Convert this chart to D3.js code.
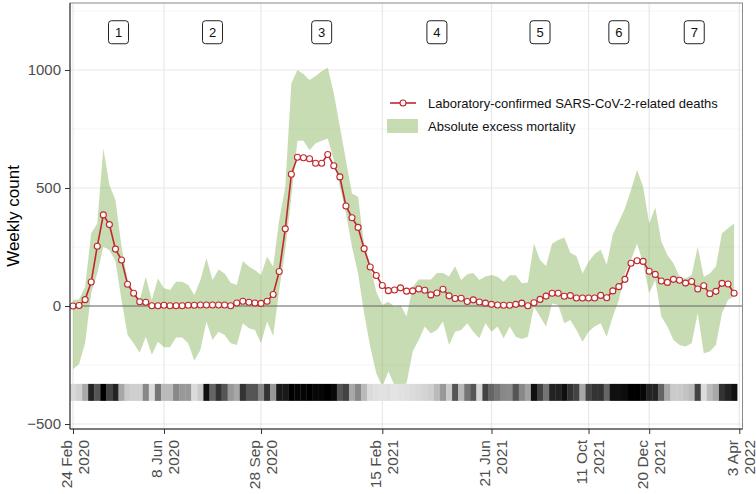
<!DOCTYPE html>
<html>
<head>
<meta charset="utf-8">
<script src="https://cdn.jsdelivr.net/npm/d3@7"></script>
<style>
  body { margin: 0; background: #fff; }
  svg { display: block; font-family: "Liberation Sans", Arial, sans-serif; }
</style>
</head>
<body>
<div id="chart"></div>
<script>
// weekly series, first week starting Monday 24 Feb 2020
const firstWeek = '2020-02-24';

const deaths = [
  0, 2, 27, 102, 253, 386, 345, 241, 195, 92,
  54, 18, 16, 1, 1, 3, 1, 1, 1, 3,
  3, 4, 4, 4, 4, 4, 1, 13, 20, 16,
  13, 11, 20, 49, 146, 327, 558, 630, 628, 624,
  605, 605, 642, 594, 547, 424, 374, 333, 243, 165,
  129, 87, 65, 68, 77, 63, 64, 72, 67, 47,
  55, 71, 43, 32, 33, 19, 26, 17, 12, 7,
  4, 3, 3, 7, 12, 1, 14, 28, 42, 54,
  54, 41, 44, 34, 34, 34, 34, 45, 35, 64,
  82, 113, 181, 192, 189, 147, 134, 106, 100, 113,
  109, 97, 104, 72, 86, 52, 62, 96, 93, 54
];

const excessUpper = [
  25, 28, 82, 308, 350, 668, 513, 449, 251, 110,
  54, 25, 124, 25, 117, 75, 68, 103, 103, 89,
  47, 110, 202, 110, 155, 138, 99, 89, 191, 167,
  152, 131, 209, 167, 364, 505, 943, 1000, 983, 958,
  975, 995, 1010, 901, 760, 618, 477, 463, 260, 170,
  60, 4, 18, -3, 4, -45, 80, 112, 112, 112,
  140, 140, 125, 168, 110, 135, 140, 110, 125, 131,
  124, 103, 130, 130, 96, 100, 265, 195, 170, 265,
  280, 290, 226, 212, 138, 188, 220, 238, 175, 304,
  357, 414, 491, 576, 505, 350, 418, 273, 216, 181,
  124, 117, 131, 251, 124, 138, 167, 308, 329, 350
];

const excessLower = [
  -268, -246, -158, 54, 138, 251, 237, 190, 25, -123,
  -158, -198, -130, -207, -151, -175, -175, -134, -134, -158,
  -232, -186, -66, -144, -109, -123, -158, -165, -73, -94,
  -102, -158, -66, -127, 68, 237, 463, 700, 700, 660,
  690, 700, 710, 618, 505, 392, 251, 138, -31, -172,
  -285, -342, -278, -335, -335, -328, -193, -144, -87, -116,
  -102, -66, -165, -109, -102, -73, -109, -137, -73, -109,
  -87, -137, -87, -130, -140, -130, -3, -45, -87, 11,
  4, -73, -59, -102, -151, -109, -87, -73, -130, -45,
  25, 138, 195, 265, 181, 54, 110, -45, -87, -144,
  -165, -172, -158, -31, -200, -193, -165, -31, 25, 40
];

// darkness of the weekly strip (0 = light grey, 1 = black)
const intensity = [
  0.06, 0.10, 0.27, 0.85, 0.63, 1.00, 0.71, 0.85, 0.27, 0.12,
  0.10, 0.10, 0.41, 0.05, 0.49, 0.19, 0.19, 0.41, 0.34, 0.34,
  0.05, 0.12, 0.93, 0.56, 0.78, 0.63, 0.34, 0.27, 0.78, 0.63,
  0.63, 0.41, 0.78, 0.34, 0.89, 0.89, 1.00, 0.98, 0.98, 1.00,
  0.97, 0.98, 1.00, 0.96, 0.63, 0.71, 0.27, 0.41, 0.19, 0.05,
  0.03, 0.02, 0.03, 0.01, 0.02, 0.03, 0.05, 0.06, 0.08, 0.10,
  0.19, 0.34, 0.12, 0.63, 0.20, 0.49, 0.63, 0.08, 0.71, 0.56,
  0.49, 0.41, 0.40, 0.63, 0.41, 0.30, 0.93, 0.71, 0.49, 0.85,
  0.85, 0.93, 0.78, 0.71, 0.27, 0.71, 0.78, 0.78, 0.56, 0.93,
  0.93, 0.95, 1.00, 1.00, 0.97, 0.85, 0.85, 0.56, 0.27, 0.12,
  0.12, 0.15, 0.19, 0.71, 0.05, 0.19, 0.27, 0.78, 0.85, 0.93
];

const tickDates = ['2020-02-24', '2020-06-08', '2020-09-28', '2021-02-15',
                   '2021-06-21', '2021-10-11', '2021-12-20', '2022-04-03'];
const yTicks = [-500, 0, 500, 1000];
const yMinorTicks = [-250, 250, 750, 1250];
const periodLabels = ['1', '2', '3', '4', '5', '6', '7'];
const legendLabels = ['Laboratory-confirmed SARS-CoV-2-related deaths', 'Absolute excess mortality'];

const width = 756, height = 494;
const panel = { left: 70, right: 742.5, top: 3, bottom: 429 };
const red = '#c0282d';
const green = '#73a83f';

const parse = d3.utcParse('%Y-%m-%d');
const ticks = tickDates.map(parse);
const start = parse(firstWeek);
const dates = deaths.map((_, i) => d3.utcWeek.offset(start, i));

const x = d3.scaleUtc()
  .domain([ticks[0], ticks[ticks.length - 1]])
  .range([73, 739.3]);
const y = d3.scaleLinear()
  .domain([-500, 1000])
  .range([424, 70]);

const svg = d3.select('#chart').append('svg')
  .attr('width', width)
  .attr('height', height)
  .attr('viewBox', `0 0 ${width} ${height}`);

// Grid
const grid = svg.append('g');
grid.selectAll('line.minor')
  .data(yMinorTicks)
  .join('line')
  .attr('x1', panel.left).attr('x2', panel.right)
  .attr('y1', d => y(d)).attr('y2', d => y(d))
  .attr('stroke', '#f2f2f2').attr('stroke-width', 0.8);
grid.selectAll('line.major')
  .data(yTicks)
  .join('line')
  .attr('x1', panel.left).attr('x2', panel.right)
  .attr('y1', d => y(d)).attr('y2', d => y(d))
  .attr('stroke', '#e8e8e8').attr('stroke-width', 1.2);
grid.selectAll('line.vert')
  .data(ticks)
  .join('line')
  .attr('x1', d => x(d)).attr('x2', d => x(d))
  .attr('y1', panel.top).attr('y2', panel.bottom)
  .attr('stroke', '#e8e8e8').attr('stroke-width', 1.2);

// Excess mortality band
const area = d3.area()
  .x((d, i) => x(dates[i]))
  .y0((d, i) => y(excessLower[i]))
  .y1((d, i) => y(excessUpper[i]));
svg.append('path')
  .datum(deaths)
  .attr('d', area)
  .attr('fill', green)
  .attr('fill-opacity', 0.4);

// Zero line
svg.append('line')
  .attr('x1', panel.left).attr('x2', panel.right)
  .attr('y1', y(0)).attr('y2', y(0))
  .attr('stroke', '#6b6b6b').attr('stroke-width', 1.2);

// Weekly strip
const grey = d3.scaleLinear().domain([0, 1]).range(['#e6e6e6', '#000000']);
svg.append('g')
  .selectAll('rect')
  .data(intensity)
  .join('rect')
  .attr('x', (d, i) => (x(dates[i]) + x(d3.utcWeek.offset(dates[i], -1))) / 2)
  .attr('width', (d, i) => x(d3.utcWeek.offset(dates[i], 1)) - x(dates[i]) + 0.3)
  .attr('y', y(-330))
  .attr('height', y(-402) - y(-330))
  .attr('fill', d => grey(d));

// Deaths line + points
const line = d3.line()
  .x((d, i) => x(dates[i]))
  .y(d => y(d));
svg.append('path')
  .datum(deaths)
  .attr('d', line)
  .attr('fill', 'none')
  .attr('stroke', red)
  .attr('stroke-width', 1.6);
svg.append('g')
  .selectAll('circle')
  .data(deaths)
  .join('circle')
  .attr('cx', (d, i) => x(dates[i]))
  .attr('cy', d => y(d))
  .attr('r', 3)
  .attr('fill', '#fff')
  .attr('stroke', red)
  .attr('stroke-width', 1.1);

// Panel border
svg.append('rect')
  .attr('x', panel.left).attr('y', panel.top)
  .attr('width', panel.right - panel.left)
  .attr('height', panel.bottom - panel.top)
  .attr('fill', 'none')
  .attr('stroke', '#8a8a8a')
  .attr('stroke-width', 1);

// Axes
const yAxis = svg.append('g')
  .attr('transform', `translate(${panel.left},0)`)
  .call(d3.axisLeft(y).tickValues(yTicks).tickSize(5).tickPadding(4).tickSizeOuter(0).tickFormat(d3.format('d')));
yAxis.select('.domain').attr('d', `M0,${panel.top}V${panel.bottom}`).attr('stroke', '#333');
yAxis.selectAll('.tick line').attr('stroke', '#333');
yAxis.selectAll('.tick text')
  .attr('font-size', 15)
  .attr('fill', '#4d4d4d')
  .attr('font-family', '"Liberation Sans", Arial, sans-serif');

const xAxis = svg.append('g')
  .attr('transform', `translate(0,${panel.bottom})`)
  .call(d3.axisBottom(x).tickValues(ticks).tickSize(5).tickSizeOuter(0).tickFormat(''));
xAxis.select('.domain').attr('d', `M${panel.left},0H${panel.right}`).attr('stroke', '#333');
xAxis.selectAll('.tick line').attr('stroke', '#333');
xAxis.selectAll('.tick text').remove();
const fmtDay = d3.utcFormat('%-d %b');
const fmtYear = d3.utcFormat('%Y');
xAxis.selectAll('.tick').each(function(d) {
  const t = d3.select(this).append('text')
    .attr('transform', 'translate(0,11) rotate(-90)')
    .attr('text-anchor', 'end')
    .attr('font-size', 15.5)
    .attr('fill', '#4d4d4d')
    .attr('font-family', '"Liberation Sans", Arial, sans-serif');
  t.append('tspan').attr('x', 0).attr('y', -2).text(fmtDay(d));
  t.append('tspan').attr('x', 0).attr('y', 15).text(fmtYear(d));
});

// Y title
svg.append('text')
  .attr('transform', `translate(19,${(panel.top + panel.bottom) / 2}) rotate(-90)`)
  .attr('text-anchor', 'middle')
  .attr('font-size', 17)
  .attr('fill', '#000')
  .text('Weekly count');

// Period labels
const periods = periodLabels.map((label, i) => ({
  label,
  mid: new Date((ticks[i].getTime() + ticks[i + 1].getTime()) / 2)
}));
const pg = svg.append('g')
  .selectAll('g')
  .data(periods)
  .join('g')
  .attr('transform', d => `translate(${x(d.mid)},${y(1160)})`);
pg.append('rect')
  .attr('x', -10).attr('y', -11.5)
  .attr('width', 20).attr('height', 23)
  .attr('rx', 3)
  .attr('fill', '#fff')
  .attr('stroke', '#222')
  .attr('stroke-width', 1);
pg.append('text')
  .attr('text-anchor', 'middle')
  .attr('dy', '0.36em')
  .attr('font-size', 13)
  .attr('fill', '#111')
  .text(d => d.label);

// Legend
const legend = svg.append('g').attr('transform', 'translate(387,103)');
legend.append('line')
  .attr('x1', 3).attr('x2', 29).attr('y1', 0).attr('y2', 0)
  .attr('stroke', red).attr('stroke-width', 1.6);
legend.append('circle')
  .attr('cx', 16).attr('cy', 0).attr('r', 3)
  .attr('fill', '#fff').attr('stroke', red).attr('stroke-width', 1.1);
legend.append('rect')
  .attr('x', 0).attr('y', 16).attr('width', 31).attr('height', 14)
  .attr('fill', green).attr('fill-opacity', 0.4);
legend.selectAll('text')
  .data(legendLabels)
  .join('text')
  .attr('x', 41)
  .attr('y', (d, i) => i * 23)
  .attr('dy', '0.36em')
  .attr('font-size', 13)
  .attr('fill', '#111')
  .text(d => d);
</script>
</body>
</html>
